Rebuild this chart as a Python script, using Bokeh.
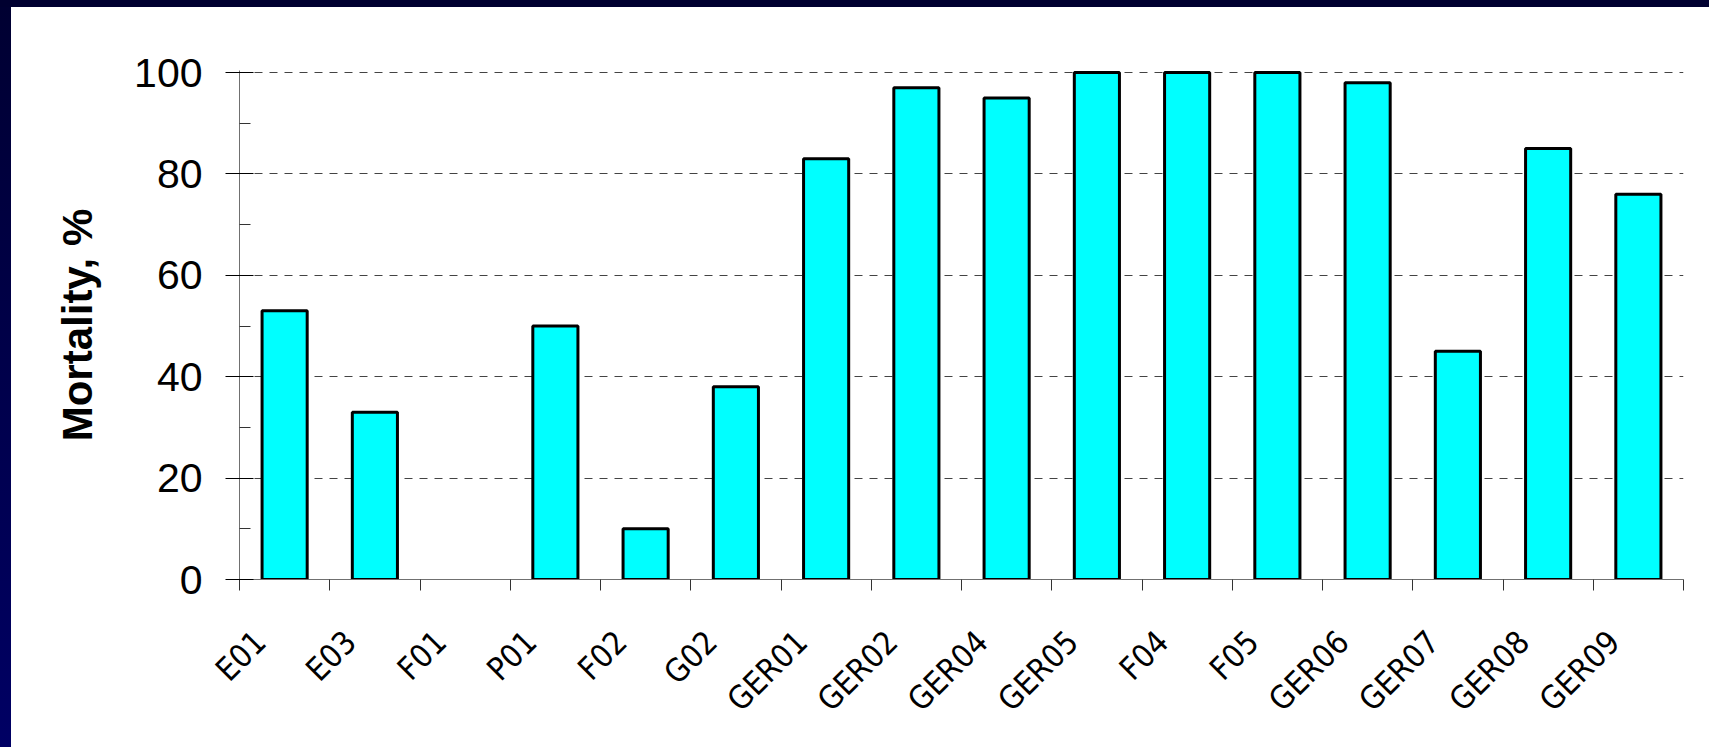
from bokeh.plotting import figure
from bokeh.layouts import column, row
from bokeh.models import FixedTicker, Range1d, ColumnDataSource, Div
from bokeh.embed import file_html
from bokeh.resources import INLINE
import math

# Sites and measured mortality (%)
sites = ["E01", "E03", "F01", "P01", "F02", "G02", "GER01", "GER02", "GER04",
         "GER05", "F04", "F05", "GER06", "GER07", "GER08", "GER09"]
mortality = [53, 33, 0, 50, 10, 38, 83, 97, 95, 100, 100, 100, 98, 45, 85, 76]

y_ticks = [0, 20, 40, 60, 80, 100]
y_minor = [10, 30, 50, 70, 90]

n = len(sites)
centers = [i + 0.5 for i in range(n)]
# empty bars get no outline so the axis stays grey beneath them
outline_alpha = [1.0 if v > 0 else 0.0 for v in mortality]
source = ColumnDataSource(data=dict(x=centers, top=mortality, site=sites,
                                    la=outline_alpha))

W, H = 1698, 740
p = figure(
    width=W, height=H,
    x_range=Range1d(0, n), y_range=Range1d(0, 100.4),
    output_backend="svg", toolbar_location=None,
    min_border_left=228, min_border_right=W - 1672,
    min_border_top=63, min_border_bottom=H - 572,
    background_fill_color="white", border_fill_color="white",
    outline_line_color=None, margin=0,
)

p.vbar(x="x", top="top", width=0.5, bottom=0, source=source,
       fill_color="#00FFFF", line_color="black", line_width=3,
       line_alpha="la")

# y axis: crossing major ticks, inward minor ticks
yax = p.yaxis[0]
yax.ticker = FixedTicker(ticks=y_ticks, minor_ticks=y_minor)
yax.axis_line_color = "#707070"
yax.major_tick_in = 14
yax.major_tick_out = 14
yax.major_tick_line_color = "black"
yax.minor_tick_in = 11
yax.minor_tick_out = 0
yax.minor_tick_line_color = "#333333"
yax.major_label_standoff = 23
yax.major_label_text_font = "Liberation Sans"
yax.major_label_text_font_size = "41px"
yax.major_label_text_color = "black"
yax.axis_label = "Mortality, %"
yax.axis_label_text_font = "Liberation Sans"
yax.axis_label_text_font_style = "bold"
yax.axis_label_text_font_size = "42px"
yax.axis_label_text_color = "black"
yax.axis_label_standoff = 30

# x axis: slanted labels set slightly left of each bar, tick marks between categories
label_pos = [c - 0.27 for c in centers]
xax = p.xaxis[0]
xax.ticker = FixedTicker(ticks=label_pos, minor_ticks=list(range(n + 1)))
xax.major_label_overrides = {c: s for c, s in zip(label_pos, sites)}
xax.axis_line_color = "#707070"
xax.major_tick_in = 0
xax.major_tick_out = 0
xax.minor_tick_in = 0
xax.minor_tick_out = 11
xax.minor_tick_line_color = "#333333"
xax.major_label_orientation = math.pi / 4
xax.major_label_standoff = 46
xax.major_label_text_font = "DejaVu Sans Condensed"
xax.major_label_text_font_size = "32px"
xax.major_label_text_color = "black"

p.xgrid.grid_line_color = None
p.ygrid.grid_line_color = "#444444"
p.ygrid.grid_line_dash = "8 7"
p.ygrid.grid_line_width = 1

# navy slide border along the top and left edges
top_band = Div(text="", width=1709, height=7, margin=0,
               styles={"background": "#000030"})
left_band = Div(text="", width=11, height=H, margin=0,
                styles={"background": "linear-gradient(to bottom, #000032, #000064)"})

page = column(top_band, row(left_band, p, spacing=0, margin=0),
              spacing=0, margin=0)

open("out.html", "w").write(file_html(page, INLINE))
